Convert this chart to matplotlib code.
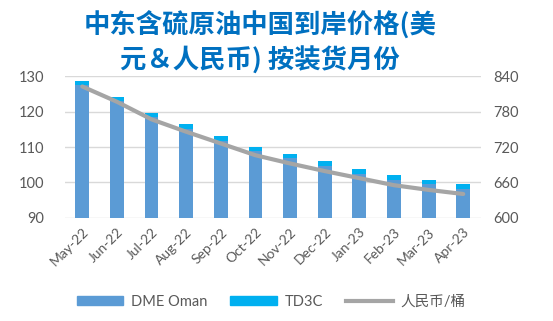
import matplotlib.pyplot as plt
import numpy as np
from matplotlib.lines import Line2D
from matplotlib.patches import Patch

plt.rcParams['font.family'] = ['Lato', 'Noto Sans CJK SC', 'DejaVu Sans']

# --------------------------------------------------
# Data
# --------------------------------------------------
months = ["May-22", "Jun-22", "Jul-22", "Aug-22", "Sep-22", "Oct-22",
          "Nov-22", "Dec-22", "Jan-23", "Feb-23", "Mar-23", "Apr-23"]
dme_oman = [127.6, 123.0, 118.5, 115.2, 111.8, 109.0,
            106.8, 104.6, 102.4, 100.7, 99.5, 98.2]
td3c = [128.8, 124.2, 119.6, 116.5, 113.1, 110.1,
        108.0, 105.9, 103.7, 102.0, 100.7, 99.5]
rmb_per_bbl = [823, 797, 767, 746, 726, 706,
               692, 679, 667, 655, 647, 640]

C_DME = "#5B9BD5"
C_TD3C = "#00B0F0"
C_LINE = "#A5A5A5"
C_TICK = "#595959"
C_GRID = "#D9D9D9"

fig = plt.figure(figsize=(5.53, 3.21), dpi=100)
ax = fig.add_axes([0.1175, 0.3224, 0.7515, 0.4393])
ax2 = ax.twinx()

x = np.arange(len(months))
w = 0.4

ax.bar(x, td3c, width=w, color=C_TD3C, zorder=2)
ax.bar(x, dme_oman, width=w, color=C_DME, zorder=3)

ax.set_ylim(90, 130)
ax.set_yticks(range(90, 131, 10))
ax.set_xlim(-0.5, len(months) - 0.5)
ax.set_xticks(x)
ax.set_xticklabels(months, rotation=45, ha="right", rotation_mode="anchor")
ax.grid(axis="y", color=C_GRID, linewidth=1, zorder=0)
ax.set_axisbelow(True)

ax2.plot(x, rmb_per_bbl, color=C_LINE, linewidth=3, solid_capstyle="round", zorder=4)
ax2.set_ylim(600, 840)
ax2.set_yticks(range(600, 841, 60))

for a in (ax, ax2):
    for s in a.spines.values():
        s.set_visible(False)
    a.tick_params(length=0, colors=C_TICK, labelsize=10.5)
ax.tick_params(axis="y", pad=15)
ax.tick_params(axis="x", pad=6, labelsize=10)
ax2.tick_params(axis="y", pad=9)

fig.text(0.47, 0.922, "中东含硫原油中国到岸价格(美", ha="center", va="center",
         fontsize=19, fontweight="bold", color="#0070C0",
         family=["Noto Sans CJK SC", "DejaVu Sans"])
fig.text(0.47, 0.81, "元＆人民币) 按装货月份", ha="center", va="center",
         fontsize=19, fontweight="bold", color="#0070C0",
         family=["Noto Sans CJK SC", "DejaVu Sans"])

handles = [Patch(color=C_DME, label="DME Oman"),
           Patch(color=C_TD3C, label="TD3C"),
           Line2D([0], [0], color=C_LINE, linewidth=3, label="人民币/桶")]
leg = fig.legend(handles=handles, loc="center", bbox_to_anchor=(0.49, 0.06),
                 ncol=3, frameon=False, fontsize=10.5, handlelength=3.2,
                 handleheight=0.6, columnspacing=1.6, handletextpad=0.5)
for t in leg.get_texts():
    t.set_color(C_TICK)

fig.savefig("out.png", dpi=100)
